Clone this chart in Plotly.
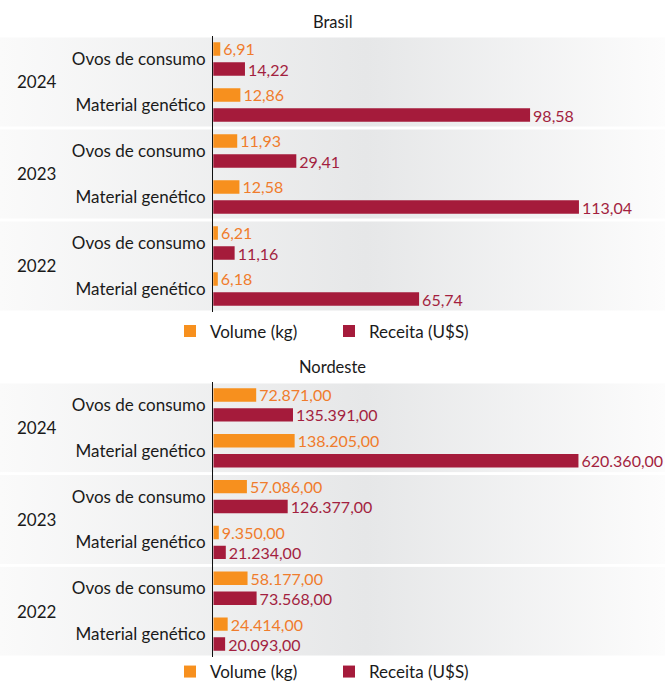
import base64
import plotly.graph_objects as go

# ---------------- data ----------------
years = ["2024", "2023", "2022"]
products = ["Ovos de consumo", "Material genético"]
series_names = ["Volume (kg)", "Receita (U$S)"]

brasil_volume = [6.91, 12.86, 11.93, 12.58, 6.21, 6.18]
brasil_receita = [14.22, 98.58, 29.41, 113.04, 11.16, 65.74]

nordeste_volume = [72871, 138205, 57086, 9350, 58177, 24414]
nordeste_receita = [135391, 620360, 126377, 21234, 73568, 20093]

panel_titles = ["Brasil", "Nordeste"]
brasil_range = [4.85, 138.5]
nordeste_range = [0, 767400]

# ---------------- styles ----------------
FONT = "Lato"
ORANGE = "#f7901e"
CRIMSON = "#a51b3b"
ORANGE_TXT = "#f07c2c"
CRIMSON_TXT = "#a31f40"
W, H = 665, 684
AXIS_X = 213.3
LABEL_SIZE = 16

# category positions (one per year/product pair)
positions = list(range(len(years) * len(products)))
tick_text = [p for _ in years for p in products]

svg = (
    '<svg xmlns="http://www.w3.org/2000/svg" width="200" height="100" '
    'viewBox="0 0 200 100" preserveAspectRatio="none">'
    '<defs><linearGradient id="g" x1="0" y1="0" x2="1" y2="0">'
    '<stop offset="0" stop-color="#fafafa"/>'
    '<stop offset="0.55" stop-color="#e6e7e8"/>'
    '<stop offset="1" stop-color="#fcfcfc"/>'
    '</linearGradient></defs>'
    '<rect x="0" y="0" width="200" height="100" fill="url(#g)"/></svg>'
)
grad_uri = "data:image/svg+xml;base64," + base64.b64encode(svg.encode()).decode()

fig = go.Figure()

panels = [
    ("x", "y", brasil_volume, brasil_receita, "legend"),
    ("x2", "y2", nordeste_volume, nordeste_receita, "legend2"),
]
for xa, ya, vol, rec, leg in panels:
    for name, vals, col, tcol in [
        (series_names[0], vol, ORANGE, ORANGE_TXT),
        (series_names[1], rec, CRIMSON, CRIMSON_TXT),
    ]:
        fig.add_trace(go.Bar(
            x=vals, y=positions, orientation="h", name=name,
            xaxis=xa, yaxis=ya, legend=leg,
            marker=dict(color=col, line=dict(width=0)),
            texttemplate="%{x:,.2f}", textposition="outside",
            constraintext="none",
            textfont=dict(family=FONT, size=LABEL_SIZE, color=tcol),
            outsidetextfont=dict(family=FONT, size=LABEL_SIZE, color=tcol),
            hoverinfo="skip",
        ))

dom_brasil = [1 - 312 / H, 1 - 36 / H]
dom_nord = [1 - 657 / H, 1 - 382 / H]
xdom = [AXIS_X / W, 1]

yaxis_common = dict(
    tickvals=positions, ticktext=tick_text, range=[5.5, -0.5],
    showline=True, linecolor="#111111", linewidth=1.4,
    showgrid=False, zeroline=False, ticks="", automargin=False,
    tickfont=dict(family=FONT, size=17, color="#1a1a1a"),
    ticklabelstandoff=3,
)
xaxis_common = dict(showticklabels=False, showgrid=False, zeroline=False,
                    showline=False, ticks="", automargin=False)

images = []
annotations = []
eps = 1.3 / 46
for yref in ["y", "y2"]:
    for i, yr in enumerate(years):
        start = i * len(products) - 0.5
        images.append(dict(
            source=grad_uri, xref="paper", yref=yref,
            x=0, y=start + eps, sizex=1, sizey=len(products) - 2 * eps,
            xanchor="left", yanchor="top", sizing="stretch", layer="below",
        ))
        annotations.append(dict(
            text=yr, xref="paper", yref=yref, x=36.5 / W,
            y=start + len(products) / 2, xanchor="center", yanchor="middle",
            showarrow=False, font=dict(family=FONT, size=17, color="#1a1a1a"),
        ))

for title, ty in zip(panel_titles, [1 - 22 / H, 1 - 367 / H]):
    annotations.append(dict(
        text=title, xref="paper", yref="paper", x=0.5, y=ty,
        xanchor="center", yanchor="middle", showarrow=False,
        font=dict(family=FONT, size=16.5, color="#1a1a1a"),
    ))

legend_common = dict(
    orientation="h", xanchor="left", yanchor="middle",
    x=170 / W, font=dict(family=FONT, size=17, color="#1a1a1a"),
    bgcolor="rgba(0,0,0,0)", borderwidth=0,
    entrywidth=114, entrywidthmode="pixels", traceorder="normal",
)

fig.update_layout(
    width=W, height=H,
    margin=dict(l=0, r=0, t=0, b=0, autoexpand=False),
    paper_bgcolor="white", plot_bgcolor="rgba(0,0,0,0)",
    separators=",.",
    uniformtext=dict(mode="show", minsize=LABEL_SIZE),
    barmode="group", bargap=0.13, bargroupgap=0.33,
    xaxis=dict(domain=xdom, anchor="y", range=brasil_range, **xaxis_common),
    yaxis=dict(domain=dom_brasil, anchor="x", **yaxis_common),
    xaxis2=dict(domain=xdom, anchor="y2", range=nordeste_range, **xaxis_common),
    yaxis2=dict(domain=dom_nord, anchor="x2", **yaxis_common),
    legend=dict(y=1 - 331.5 / H, **legend_common),
    legend2=dict(y=1 - 672 / H, **legend_common),
    images=images,
    annotations=annotations,
    showlegend=True,
)

fig.write_html("out.html")
